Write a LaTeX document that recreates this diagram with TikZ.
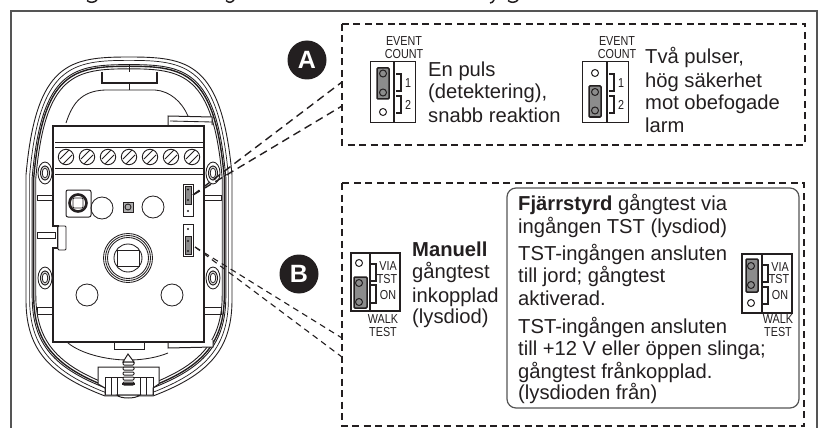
\documentclass[tikz,border=0pt]{standalone}
\usepackage{fontspec}
\usepackage{graphicx}
\setmainfont{Liberation Sans}
\definecolor{ink}{HTML}{231F20}
\definecolor{pin}{HTML}{8C8C8C}
\definecolor{frameline}{HTML}{555555}
\newcommand{\smalltxt}[1]{\scalebox{0.83}[1]{\fontsize{13}{13}\selectfont #1}}
\newcommand{\shellpath}{(0,-169) .. controls (-59,-169) and (-93,-164) .. (-103,-51) -- (-103,74) .. controls (-103,124) and (-79,149) .. (-24,170) -- (24,170) .. controls (79,149) and (103,124) .. (103,74) -- (103,-51) .. controls (93,-164) and (59,-169) .. (0,-169) -- cycle}
\tikzset{
  dashbox/.style={draw=ink,line width=1.5,dash pattern=on 7pt off 4.5pt},
  leadera/.style={draw=ink,line width=1.4,dash pattern=on 8pt off 5pt},
  leaderb/.style={draw=ink,line width=1.1,dash pattern=on 6pt off 4.5pt},
  body/.style={anchor=base west,inner sep=0pt,font=\fontsize{20.2}{22}\selectfont,text=ink},
  tiny/.style={inner sep=0pt,text=ink},
  badge/.style={circle,fill=ink,text=white,minimum size=39pt,inner sep=0pt,font=\fontsize{25}{25}\selectfont\bfseries},
  line/.style={draw=ink,line width=0.85},
  hole/.style={draw=ink,line width=1,fill=white},
  jump/.style={draw=ink,line width=1.5,fill=pin,rounded corners=1pt},
}
\begin{document}
\begin{tikzpicture}[x=1pt,y=-1pt]
\useasboundingbox (0,0) rectangle (820,428);
% frame
\draw[frameline,line width=1.5] (11,428) -- (11,11) -- (817,11) -- (817,428);
% cut-off descenders
\draw[ink,line width=1.5] (87,0.5) .. controls (90,3) and (94,3) .. (97,0);
\draw[ink,line width=1.5] (226,0.5) .. controls (229,3) and (231,3) .. (234,0);
\draw[ink,line width=1.5] (490,3) .. controls (492,3) and (493,2) .. (494,0);
\draw[ink,line width=1.5] (508,0.5) .. controls (511,3) and (515,3) .. (518,0);
% detector shell
\begin{scope}[shift={(129,226)}]
  \draw[ink,line width=0.9] [xscale=1,yscale=1] \shellpath;
  \draw[ink,line width=0.7] [xscale=0.965,yscale=0.98] \shellpath;
  \draw[ink,line width=0.9] [xscale=0.94,yscale=0.955] \shellpath;
  \draw[ink,line width=1.4] [xscale=0.925,yscale=0.945] \shellpath;
  \draw[ink,line width=0.9] [xscale=0.905,yscale=0.93] \shellpath;
\end{scope}
% inner arch and top tab
\draw[line] (66,123) .. controls (72,105) and (80,91) .. (105,90) -- (155,90) .. controls (170,91) and (182,102) .. (188,116);
\draw[line,fill=white,line width=1.2] (102,72) -- (102,83) -- (157,83) -- (157,72);
\draw[line] (129,83) -- (129,90) (129,64) -- (129,72);
% side ribs
\foreach \x/\w in {37/16,204/17}{
  \draw[line] (\x,195) rectangle ++(\w,5);
  \draw[line] (\x,307) rectangle ++(\w,7);
}
\draw[line,fill=white] (37,232) rectangle (55,238);
% mounting ears
\foreach \x in {45,213}{\foreach \y in {173,278}{
  \draw[line,fill=white] (\x,\y) ellipse [x radius=7,y radius=11];
  \draw[line,fill=white,line width=1] (\x,\y) ellipse [x radius=4.5,y radius=7];
  \draw[line] (\x,\y) ellipse [x radius=2.8,y radius=5];
}}
% tabs behind board
\draw[line,fill=white,line width=1] (168,125) -- (168,116) -- (212,117) -- (212,125);
\draw[line] (170,121) -- (212,122);
\draw[line] (68,343) .. controls (80,353) and (105,360) .. (128,360) .. controls (145,360) and (158,357) .. (168,353);
\draw[line,fill=white,line width=1] (168,342) -- (168,348) -- (213,347) -- (213,340);
\draw[line,fill=white,line width=1] (114,342) -- (114,349) -- (144,349) -- (144,342);
% board
\draw[ink,line width=1.1,fill=white] (53,126) -- (204,126) -- (204,342) -- (53,342) -- (53,248) -- (58,248) -- (58,226) -- (53,226) -- cycle;
\draw[ink,line width=2.2] (53,126) -- (204,126);
\draw[ink,line width=2.2] (53,226) -- (58,226) -- (58,248) -- (53,248);
\draw[line,fill=white,rounded corners=1pt] (58,226) rectangle (66,250);
% terminal strip
\draw[line] (55,142) -- (204,142) (55,147) -- (204,147) (55,168) -- (204,168) (55,174) -- (204,174);
\foreach \x in {66,87,108,129,150,171,192}{
  \draw[ink,line width=0.9] (\x,157) circle [radius=7.7];
  \draw[ink,line width=0.8] (\x-6,157+2) -- (\x+3,157-7) (\x-3,157+7) -- (\x+6,157-2);
}
% knob
\draw[line,line width=1,rounded corners=2pt] (66,190) rectangle (91,217);
\draw[ink,line width=2.6] (78,203) circle [radius=8.5];
\draw[line,rounded corners=1pt] (73,198) rectangle (83,208);
% holes
\foreach \x/\y in {102/208,153/207,87/295,172/295}{\draw[line] (\x,\y) circle [radius=11];}
\draw[ink,line width=1,fill=pin!70] (123,202) rectangle (133,212);
\draw[line] (128,207) circle [radius=3];
% lens
\foreach \r in {24.5,22.5,20.5,14}{\draw[line] (128,258) circle [radius=\r];}
\draw[ink,line width=1] (117.5,250) rectangle (139,266);
% small jumpers
\draw[line,line width=0.9] (183,184) rectangle (193,216);
\draw[ink,line width=1,fill=pin] (185,186) rectangle (191,204);
\fill[ink] (188,189.5) circle [radius=1.2] (188,200) circle [radius=1.2] (188,211) circle [radius=1.2];
\draw[line,line width=0.9] (183,224) rectangle (193,256);
\draw[ink,line width=1,fill=pin] (185,236) rectangle (191,254);
\fill[ink] (188,229) circle [radius=1.2] (188,241) circle [radius=1.2] (188,251) circle [radius=1.2];
% bottom clip and screw
\draw[ink,line width=1,fill=white] (98,367) -- (159,367) -- (159,384) -- (153,388) -- (153,395) -- (105,395) -- (105,388) -- (98,384) -- cycle;
\draw[line] (105,395) -- (105,377) -- (153,377) -- (153,395) (111,377) -- (111,395) (117,377) -- (117,395) (140,377) -- (140,395) (146,377) -- (146,395);
\draw[ink,line width=1,fill=white] (128,354) -- (134,362) -- (123,362) -- cycle;
\foreach \y in {362,367,372,377,382}{\draw[ink,line width=1,fill=white,rounded corners=1pt] (123,\y) rectangle (134,\y+3);}
\draw[ink,line width=1.3] (122,384) -- (135,384);
\draw[ink,line width=1,fill=white] (117,395) .. controls (120,399) and (136,399) .. (140,395) -- cycle;
% boxes
\draw[dashbox] (342,24) rectangle (805,145);
\draw[dashbox] (342,183) rectangle (804,426);
\draw[draw=frameline,line width=1.2,fill=white,rounded corners=9pt] (507,188) rectangle (799,408);
% connector ends
\coordinate (ja) at (193,195);
\coordinate (jb) at (195,247);
\coordinate (a1) at (342,82);
\coordinate (a2) at (342,106);
\coordinate (b1) at (342,338);
\coordinate (b2) at (342,357);
\draw[leadera] (ja) -- (a1);
\draw[leadera] (ja) -- (a2);
\draw[leaderb] (jb) -- (b1);
\draw[leaderb] (jb) -- (b2);
% badges
\node[badge] (A) at (307,60) {A};
\node[badge] (B) at (299,274) {B};
% event count A1
\node[tiny] (ec1a) at (404,41) {\smalltxt{EVENT}};
\node[tiny] (ec1b) at (404,54) {\smalltxt{COUNT}};
\draw[ink,line width=1] (370,62) rectangle (415,122);
\draw[ink,line width=1.3] (394,62) -- (394,122);
\draw[jump] (377,68) rectangle (389,99);
\draw[hole,fill=none] (383,73.5) circle [radius=3.5];
\draw[hole,fill=none] (383,92.5) circle [radius=3.5];
\draw[hole] (383,112) circle [radius=3.5];
\draw[ink,line width=1.1] (396,74) -- (401,74) -- (401,91) -- (396,91);
\draw[ink,line width=1.1] (396,96) -- (401,96) -- (401,113) -- (396,113);
\node[tiny] (n1a) at (408,83) {\smalltxt{1}};
\node[tiny] (n2a) at (408,105) {\smalltxt{2}};
\node[body] (t1) at (428,77) {En puls};
\node[body] (t2) at (428,99) {(detektering),};
\node[body] (t3) at (428,122) {snabb reaktion};
% event count A2
\node[tiny] (ec2a) at (617,41) {\smalltxt{EVENT}};
\node[tiny] (ec2b) at (617,54) {\smalltxt{COUNT}};
\draw[ink,line width=1] (582,62) rectangle (628,122);
\draw[ink,line width=1.3] (607,62) -- (607,122);
\draw[jump] (589,86) rectangle (601,117);
\draw[hole] (595,73) circle [radius=3.5];
\draw[hole,fill=none] (595,92) circle [radius=3.5];
\draw[hole,fill=none] (595,110.5) circle [radius=3.5];
\draw[ink,line width=1.1] (609,74) -- (614,74) -- (614,91) -- (609,91);
\draw[ink,line width=1.1] (609,96) -- (614,96) -- (614,113) -- (609,113);
\node[tiny] (n1b) at (621,83) {\smalltxt{1}};
\node[tiny] (n2b) at (621,105) {\smalltxt{2}};
\node[body] (t4) at (645,64) {Två pulser,};
\node[body] (t5) at (645,88) {hög säkerhet};
\node[body] (t6) at (645,110) {mot obefogade};
\node[body] (t7) at (645,132) {larm};
% walk test left
\draw[ink,line width=1.7] (351,253) rectangle (400,311);
\draw[ink,line width=1.7] (370,253) -- (370,311);
\draw[jump] (354,277) rectangle (367,308);
\draw[hole] (359,263) circle [radius=3.5];
\draw[hole,fill=none] (359,283) circle [radius=3.5];
\draw[hole,fill=none] (359,302) circle [radius=3.5];
\draw[ink,line width=1.1] (371,264) -- (376,264) -- (376,281) -- (371,281);
\draw[ink,line width=1.1] (371,285) -- (376,285) -- (376,303) -- (371,303);
\node[tiny] (via1) at (388,266) {\smalltxt{VIA}};
\node[tiny] (tst1) at (387,279) {\smalltxt{TST}};
\node[tiny] (on1) at (388,295) {\smalltxt{ON}};
\node[tiny] (wk1) at (383,319) {\smalltxt{WALK}};
\node[tiny] (te1) at (383,332) {\smalltxt{TEST}};
\node[body] (m1) at (412,256) {\textbf{Manuell}};
\node[body] (m2) at (412,278) {gångtest};
\node[body] (m3) at (412,302) {inkopplad};
\node[body] (m4) at (412,323) {(lysdiod)};
% remote text
\node[body] (r1) at (518,210) {\textbf{Fjärrstyrd} gångtest via};
\node[body] (r2) at (518,233) {ingången TST (lysdiod)};
\node[body] (r3) at (518,260) {TST-ingången ansluten};
\node[body] (r4) at (518,282) {till jord; gångtest};
\node[body] (r5) at (518,305) {aktiverad.};
\node[body] (r6) at (518,333) {TST-ingången ansluten};
\node[body] (r7) at (518,355) {till +12 V eller öppen slinga;};
\node[body] (r8) at (518,378) {gångtest frånkopplad.};
\node[body] (r9) at (518,399) {(lysdioden från)};
% walk test right
\draw[ink,line width=1.7] (742,254) rectangle (792,313);
\draw[ink,line width=1.7] (762,254) -- (762,313);
\draw[jump] (746,259) rectangle (758,292);
\draw[hole,fill=none] (751,266) circle [radius=3.5];
\draw[hole,fill=none] (751,285) circle [radius=3.5];
\draw[hole] (751,303) circle [radius=3.5];
\draw[ink,line width=1.1] (763,265) -- (768,265) -- (768,282) -- (763,282);
\draw[ink,line width=1.1] (763,287) -- (768,287) -- (768,304) -- (763,304);
\node[tiny] (via2) at (780,267) {\smalltxt{VIA}};
\node[tiny] (tst2) at (779,279) {\smalltxt{TST}};
\node[tiny] (on2) at (780,295) {\smalltxt{ON}};
\node[tiny] (wk2) at (778,319) {\smalltxt{WALK}};
\node[tiny] (te2) at (778,332) {\smalltxt{TEST}};
\end{tikzpicture}
\end{document}
